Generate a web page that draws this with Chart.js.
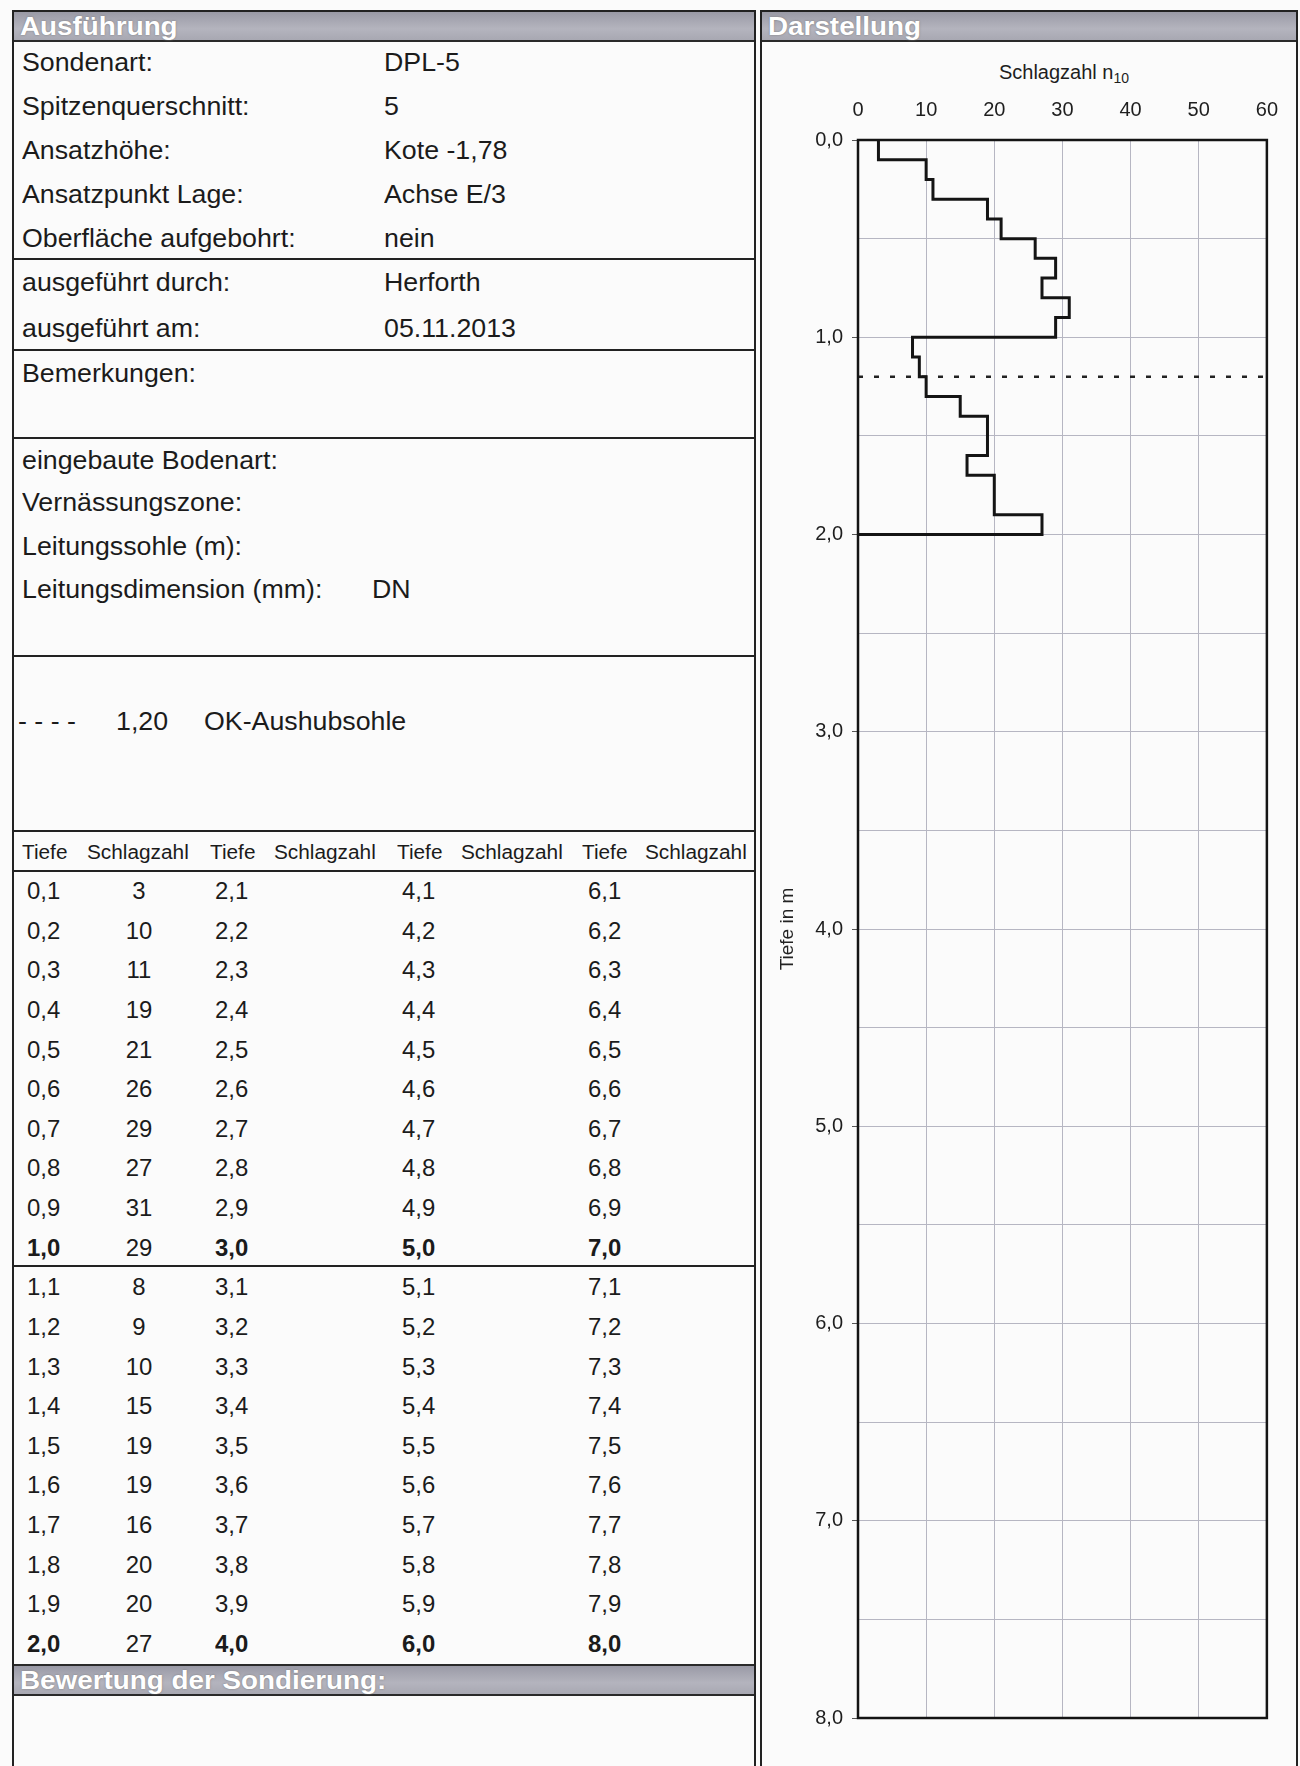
<!DOCTYPE html>
<html lang="de">
<head>
<meta charset="utf-8">
<title>Rammsondierung DPL-5</title>
<script src="https://cdn.jsdelivr.net/npm/chart.js@4.4.1/dist/chart.umd.min.js"></script>
<style>
  html, body { margin: 0; padding: 0; }
  body {
    width: 1300px; height: 1766px; position: relative; overflow: hidden;
    background: #fbfbfb; color: #1b1b1b;
    font-family: "Liberation Sans", Arial, sans-serif;
  }
  .panel { position: absolute; top: 10px; height: 1800px; border: 2px solid #222; box-sizing: border-box; }
  #links { left: 12px; width: 744px; }
  #rechts { left: 760px; width: 538px; }
  .bar {
    position: absolute; height: 30px; box-sizing: border-box;
    background: linear-gradient(#9a9aa6, #b4b4be 60%, #a8a8b2);
    border-bottom: 2px solid #2a2a2a;
    color: #fff; font-weight: bold; font-size: 26px; line-height: 28px;
    padding-left: 6px; text-shadow: 0 0 2px #777; white-space: nowrap;
  }
  .bar span { display: inline-block; transform: scaleX(1.07); transform-origin: left center; }
  .hr { position: absolute; left: 12px; width: 744px; border-top: 2px solid #222; }
  .t {
    position: absolute; white-space: nowrap; height: 30px; line-height: 30px; font-size: 25px;
    transform: scaleX(1.07); transform-origin: left center;
  }
  .th { font-size: 20px; transform: scaleX(1.04); }
  .td { font-size: 23px; transform: scaleX(1.04); }
  .mitte { text-align: center; transform-origin: center center; }
  .b { font-weight: bold; }
  #titel {
    position: absolute; left: 858px; width: 412px; top: 58px;
    text-align: center; font-size: 20px; line-height: 28px; color: #1e1e1e;
  }
  #titel sub { font-size: 14px; vertical-align: -4px; line-height: 0; }
  #diagramm { position: absolute; left: 762px; top: 41px; }
</style>
</head>
<body>
<div class="panel" id="links"></div>
<div class="panel" id="rechts"></div>
<div class="bar" style="left:14px;top:12px;width:740px;"><span>Ausführung</span></div>
<div class="bar" style="left:762px;top:12px;width:534px;"><span>Darstellung</span></div>
<div class="bar" style="left:14px;top:1664px;width:740px;border-top:2px solid #2a2a2a;height:32px;"><span>Bewertung der Sondierung:</span></div>
<div id="felder"></div>
<div id="titel">Schlagzahl n<sub>10</sub></div>
<canvas id="diagramm" width="534" height="1725"></canvas>

<script>
// Rammsondierung DPL-5: Schlagzahl je 10 cm Eindringung
const tiefen = [0.1, 0.2, 0.3, 0.4, 0.5, 0.6, 0.7, 0.8, 0.9, 1.0,
                1.1, 1.2, 1.3, 1.4, 1.5, 1.6, 1.7, 1.8, 1.9, 2.0];
const schlagzahlen = [3, 10, 11, 19, 21, 26, 29, 27, 31, 29,
                      8, 9, 10, 15, 19, 19, 16, 20, 20, 27];
const aushubsohle = 1.20;
const xMax = 60;
const yMax = 8;

const angaben = [
    ['Sondenart:', 'DPL-5'],
    ['Spitzenquerschnitt:', '5'],
    ['Ansatzhöhe:', 'Kote -1,78'],
    ['Ansatzpunkt Lage:', 'Achse E/3'],
    ['Oberfläche aufgebohrt:', 'nein'],
    ['ausgeführt durch:', 'Herforth'],
    ['ausgeführt am:', '05.11.2013'],
    ['Bemerkungen:', ''],
    ['eingebaute Bodenart:', ''],
    ['Vernässungszone:', ''],
    ['Leitungssohle (m):', ''],
    ['Leitungsdimension (mm):', 'DN']
];
const angabenY = [62, 106, 150, 194, 238, 282, 328, 373, 460, 502, 546, 589];
const linienY = [259, 350, 438, 656, 831, 871, 1266];

const komma = v => v.toFixed(1).replace('.', ',');

// linke Seite: Kopfdaten und Tabelle
const felder = document.getElementById('felder');
function text(str, x, yMitte, cls) {
    const el = document.createElement('div');
    el.className = 't ' + (cls || '');
    el.textContent = str;
    el.style.left = x + 'px';
    el.style.top = (yMitte - 15) + 'px';
    felder.appendChild(el);
    return el;
}

angaben.forEach((a, i) => {
    text(a[0], 22, angabenY[i]);
    if (a[1]) text(a[1], a[1] === 'DN' ? 372 : 384, angabenY[i]);
});
linienY.forEach(y => {
    const hr = document.createElement('div');
    hr.className = 'hr';
    hr.style.top = (y - 1) + 'px';
    felder.appendChild(hr);
});

text('- - - -', 18, 721);
text(komma(aushubsohle) + '0', 116, 721);
text('OK-Aushubsohle', 204, 721);

const kopfX = [22, 87, 210, 274, 397, 461, 582, 645];
kopfX.forEach((x, i) => text(i % 2 ? 'Schlagzahl' : 'Tiefe', x, 852, 'th'));

const tiefeX = [27, 215, 402, 588];
const zahlMitte = 139;
for (let r = 0; r < 20; r++) {
    const y = 891 + r * 39.63;
    const fett = (r + 1) % 10 === 0;
    tiefeX.forEach((x, c) => {
        text(komma((c * 20 + r + 1) / 10), x, y, 'td' + (fett ? ' b' : ''));
    });
    if (schlagzahlen[r] !== undefined) {
        const el = text(String(schlagzahlen[r]), zahlMitte - 40, y, 'td mitte');
        el.style.width = '80px';
    }
}

// Stufenlinie: jede Schlagzahl gilt über ihr 10-cm-Intervall
const stufen = [];
schlagzahlen.forEach((n, i) => {
    const oben = i === 0 ? 0 : tiefen[i - 1];
    stufen.push({ x: n, y: oben });
    stufen.push({ x: n, y: tiefen[i] });
});
stufen.push({ x: 0, y: tiefen[tiefen.length - 1] });

const rahmen = {
    id: 'rahmen',
    afterDraw(chart) {
        const { ctx, chartArea: a } = chart;
        ctx.save();
        ctx.strokeStyle = '#141414';
        ctx.lineWidth = 2.5;
        ctx.strokeRect(a.left, a.top, a.right - a.left, a.bottom - a.top);
        ctx.restore();
    }
};

const rasterFarbe = '#b6b6c2';

new Chart(document.getElementById('diagramm'), {
    type: 'scatter',
    data: {
        datasets: [{
            label: 'Schlagzahl',
            data: stufen,
            showLine: true,
            borderColor: '#141414',
            borderWidth: 3,
            pointRadius: 0,
            tension: 0,
            fill: false
        }, {
            label: 'OK-Aushubsohle',
            data: [{ x: 0, y: aushubsohle }, { x: xMax, y: aushubsohle }],
            showLine: true,
            borderColor: '#222',
            borderWidth: 2.5,
            borderDash: [5, 11],
            pointRadius: 0
        }]
    },
    options: {
        responsive: false,
        animation: false,
        devicePixelRatio: 1,
        layout: { padding: { left: 10, right: 26, top: 40, bottom: 48 } },
        plugins: {
            legend: { display: false },
            tooltip: { enabled: false }
        },
        scales: {
            x: {
                type: 'linear',
                position: 'top',
                min: 0,
                max: xMax,
                ticks: { stepSize: 10, padding: 18, color: '#1e1e1e', font: { size: 20, family: 'Liberation Sans' } },
                grid: { color: rasterFarbe, lineWidth: 1, drawTicks: false },
                border: { display: false },
                afterFit(scale) { scale.height = 59; }
            },
            y: {
                type: 'linear',
                reverse: true,
                min: 0,
                max: yMax,
                ticks: {
                    stepSize: 0.5,
                    autoSkip: false,
                    padding: 9,
                    color: '#1e1e1e',
                    font: { size: 20, family: 'Liberation Sans' },
                    callback: v => Number.isInteger(v) ? komma(v) : ''
                },
                grid: {
                    color: rasterFarbe,
                    lineWidth: 1,
                    tickLength: 6,
                    tickColor: c => Number.isInteger(c.tick.value) ? '#555' : 'rgba(0,0,0,0)'
                },
                border: { display: false },
                title: {
                    display: true,
                    text: 'Tiefe in m',
                    color: '#222',
                    font: { size: 19, family: 'Liberation Sans' },
                    padding: { top: 4, bottom: 4 }
                },
                afterFit(scale) { scale.width = 86; }
            }
        }
    },
    plugins: [rahmen]
});
</script>
</body>
</html>
